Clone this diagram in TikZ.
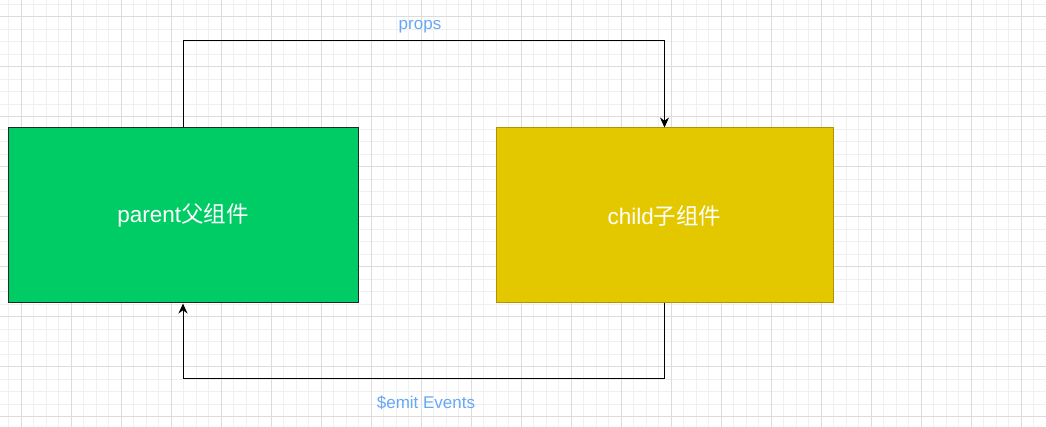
\documentclass[tikz,border=0pt]{standalone}
\usepackage{fontspec}
\setmainfont{Liberation Sans}
\newfontfamily\cjk{Noto Sans CJK SC}
\usetikzlibrary{arrows.meta}
\begin{document}
\begin{tikzpicture}[x=1pt,y=-1pt,
  box/.style={draw, minimum width=#1, minimum height=175pt, inner sep=0pt, font=\fontsize{22.5}{26}\selectfont, text=white},
  conn/.style={draw=black, line width=1pt, -{Stealth[length=10pt,width=9pt]}},
  lbl/.style={font=\fontsize{17}{20}\selectfont, text=lblc}]
\definecolor{lblc}{HTML}{66A8F5}
\definecolor{gridmin}{HTML}{F0F0F0}
\definecolor{gridmaj}{HTML}{DCDCDC}
\definecolor{greenf}{HTML}{00CC66}
\definecolor{yellf}{HTML}{E3C800}
\definecolor{yelld}{HTML}{B09500}
\useasboundingbox (0,0) rectangle (1046,427);
\fill[white] (0,0) rectangle (1046,427);
\foreach \i in {0,...,84} {\draw[gridmin, line width=0.6pt] ({-4+12.5*\i},0) -- ({-4+12.5*\i},427);}
\foreach \i in {0,...,35} {\draw[gridmin, line width=0.6pt] (0,{4.2+12.5*\i}) -- (1046,{4.2+12.5*\i});}
\foreach \i in {0,...,21} {\draw[gridmaj, line width=0.6pt] ({21+50*\i},0) -- ({21+50*\i},427);}
\foreach \i in {0,...,9} {\draw[gridmaj, line width=0.6pt] (0,{16.7+50*\i}) -- (1046,{16.7+50*\i});}
\node[box=350pt, fill=greenf, draw=black!85, line width=1pt] (parent) at (183,215.5) {parent{\cjk 父组件}};
\node[box=337pt, fill=yellf, draw=yelld, line width=1pt] (child) at (664.5,215.5) {child{\cjk 子组件}};
\coordinate (p1) at (183,41);
\coordinate (p2) at (664.5,41);
\coordinate (q1) at (664.5,378);
\coordinate (q2) at (183,378);
\draw[conn] (parent.north) -- (p1) -- (p2) -- (child.north);
\draw[conn] (child.south) -- (q1) -- (q2) -- (parent.south);
\node[lbl] (props) at (420,27) {props};
\node[lbl] (emit) at (426,403) {\$emit Events};
\end{tikzpicture}
\end{document}
